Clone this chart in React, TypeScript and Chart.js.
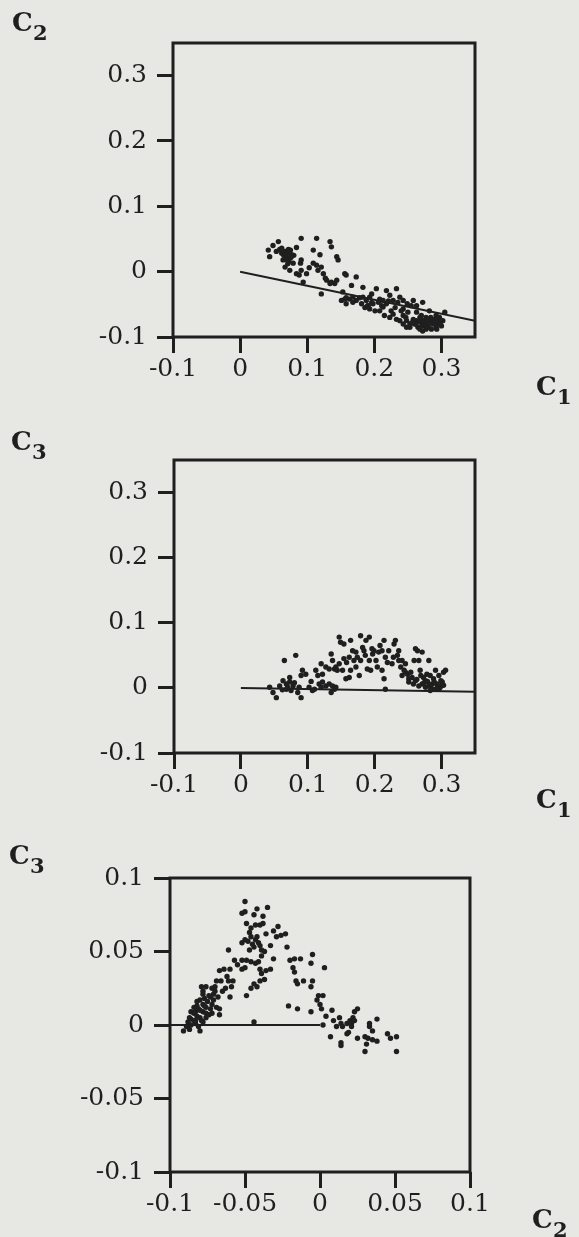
import React, { useEffect, useRef } from "react";
import { Chart, registerables } from "chart.js";

Chart.register(...registerables);

const INK = "#1f1f1f";
const PAPER = "#e7e7e4";
const FONT = "'DejaVu Serif', 'Liberation Serif', serif";

// ---------- Plot 1 : C2 against C1 ----------
const plot1XTicks = [-0.1, 0, 0.1, 0.2, 0.3];
const plot1XLabels = ["-0.1", "0", "0.1", "0.2", "0.3"];
const plot1YTicks = [-0.1, 0, 0.1, 0.2, 0.3];
const plot1YLabels = ["-0.1", "0", "0.1", "0.2", "0.3"];
const plot1Line: [number, number][] = [[0, 0], [0.35, -0.075]];
const plot1Points: [number, number][] = [
  [0.042, 0.033], [0.057, 0.046], [0.049, 0.040], [0.044, 0.023], [0.054, 0.031], [0.062, 0.028],
  [0.067, 0.031], [0.069, 0.023], [0.064, 0.018], [0.072, 0.015], [0.074, 0.020], [0.077, 0.026],
  [0.075, 0.033], [0.079, 0.013], [0.084, 0.037], [0.091, 0.051], [0.072, 0.034], [0.059, 0.034],
  [0.067, 0.007], [0.074, 0.002], [0.084, -0.003], [0.091, 0.002], [0.094, -0.016], [0.099, -0.003],
  [0.090, 0.013], [0.091, 0.018], [0.114, 0.051], [0.134, 0.046], [0.136, 0.038], [0.109, 0.033],
  [0.119, 0.026], [0.144, 0.023], [0.146, 0.018], [0.114, 0.010], [0.109, 0.013], [0.116, 0.002],
  [0.124, -0.003], [0.121, 0.007], [0.129, -0.013], [0.136, -0.016], [0.141, -0.018], [0.144, -0.013],
  [0.134, -0.018], [0.121, -0.034], [0.156, -0.003], [0.158, -0.005], [0.166, -0.021], [0.173, -0.008],
  [0.153, -0.031], [0.156, -0.042], [0.158, -0.049], [0.163, -0.042], [0.151, -0.044], [0.168, -0.039],
  [0.173, -0.044], [0.183, -0.039], [0.183, -0.024], [0.181, -0.049], [0.188, -0.044], [0.193, -0.039],
  [0.196, -0.034], [0.198, -0.049], [0.191, -0.052], [0.186, -0.055], [0.203, -0.026], [0.208, -0.042],
  [0.213, -0.044], [0.218, -0.029], [0.223, -0.036], [0.213, -0.054], [0.208, -0.060], [0.218, -0.049],
  [0.228, -0.044], [0.233, -0.026], [0.235, -0.047], [0.238, -0.039], [0.243, -0.044], [0.243, -0.057],
  [0.225, -0.060], [0.215, -0.067], [0.223, -0.070], [0.233, -0.073], [0.238, -0.075], [0.243, -0.067],
  [0.248, -0.075], [0.250, -0.062], [0.253, -0.080], [0.258, -0.044], [0.263, -0.052], [0.263, -0.062],
  [0.268, -0.070], [0.272, -0.047], [0.258, -0.073], [0.260, -0.080], [0.265, -0.085], [0.270, -0.078],
  [0.272, -0.083], [0.275, -0.075], [0.277, -0.070], [0.282, -0.060], [0.285, -0.075], [0.287, -0.080],
  [0.292, -0.067], [0.295, -0.075], [0.297, -0.070], [0.300, -0.083], [0.302, -0.075], [0.305, -0.062],
  [0.292, -0.085], [0.285, -0.088], [0.277, -0.088], [0.272, -0.091], [0.268, -0.088], [0.253, -0.085],
  [0.243, -0.080], [0.248, -0.085], [0.280, -0.078], [0.290, -0.073], [0.295, -0.080], [0.300, -0.075],
  [0.249, -0.049], [0.255, -0.052], [0.201, -0.060], [0.193, -0.057], [0.168, -0.047], [0.196, -0.047],
  [0.206, -0.047], [0.228, -0.065], [0.263, -0.075], [0.272, -0.075],
  [0.065, 0.025], [0.070, 0.028], [0.076, 0.022], [0.068, 0.019], [0.073, 0.030], [0.080, 0.025],
  [0.062, 0.036], [0.071, 0.012], [0.262, -0.080], [0.267, -0.076], [0.276, -0.082], [0.281, -0.085],
  [0.289, -0.078], [0.293, -0.088], [0.284, -0.070], [0.298, -0.080], [0.256, -0.078], [0.270, -0.067],
  [0.279, -0.073], [0.247, -0.070], [0.178, -0.040], [0.190, -0.052], [0.211, -0.052], [0.221, -0.045],
  [0.231, -0.055], [0.240, -0.060], [0.158, -0.040], [0.127, -0.010], [0.103, 0.006], [0.088, -0.005],
];

// ---------- Plot 2 : C3 against C1 ----------
const plot2XTicks = [-0.1, 0, 0.1, 0.2, 0.3];
const plot2XLabels = ["-0.1", "0", "0.1", "0.2", "0.3"];
const plot2YTicks = [-0.1, 0, 0.1, 0.2, 0.3];
const plot2YLabels = ["-0.1", "0", "0.1", "0.2", "0.3"];
const plot2Line: [number, number][] = [[0, 0], [0.35, -0.006]];
const plot2Points: [number, number][] = [
  [0.043, 0.001], [0.048, -0.007], [0.053, -0.015], [0.058, 0.003], [0.063, 0.011], [0.065, 0.042],
  [0.068, 0.006], [0.070, 0.001], [0.073, 0.009], [0.075, -0.004], [0.078, 0.003], [0.082, 0.050],
  [0.085, -0.007], [0.087, 0.001], [0.090, -0.015], [0.092, 0.027], [0.097, 0.021], [0.102, 0.001],
  [0.107, -0.004], [0.110, -0.002], [0.112, 0.027], [0.115, 0.019], [0.117, 0.006], [0.120, 0.001],
  [0.122, 0.009], [0.127, 0.003], [0.132, 0.006], [0.135, -0.007], [0.137, 0.003], [0.140, -0.002],
  [0.142, 0.001], [0.120, 0.037], [0.127, 0.032], [0.132, 0.029], [0.135, 0.052], [0.137, 0.042],
  [0.140, 0.029], [0.142, 0.032], [0.144, 0.027], [0.147, 0.037], [0.152, 0.027], [0.154, 0.045],
  [0.157, 0.014], [0.162, 0.016], [0.164, 0.027], [0.169, 0.042], [0.172, 0.032], [0.147, 0.078],
  [0.149, 0.070], [0.154, 0.0675], [0.164, 0.073], [0.167, 0.057], [0.172, 0.055], [0.177, 0.019],
  [0.179, 0.080], [0.182, 0.062], [0.184, 0.057], [0.187, 0.073], [0.192, 0.078], [0.192, 0.042],
  [0.194, 0.027], [0.197, 0.052], [0.199, 0.057], [0.202, 0.042], [0.204, 0.032], [0.206, 0.055],
  [0.211, 0.057], [0.214, 0.073], [0.216, 0.047], [0.219, 0.039], [0.221, 0.057], [0.226, 0.037],
  [0.229, 0.0675], [0.231, 0.073], [0.234, 0.050], [0.236, 0.057], [0.239, 0.032], [0.241, 0.019],
  [0.236, 0.042], [0.244, 0.027], [0.249, 0.021], [0.251, 0.014], [0.254, 0.024], [0.256, 0.016],
  [0.259, 0.042], [0.261, 0.060], [0.264, 0.057], [0.266, 0.042], [0.268, 0.027], [0.271, 0.055],
  [0.273, 0.016], [0.276, 0.011], [0.278, 0.021], [0.281, 0.042], [0.283, 0.019], [0.286, 0.006],
  [0.288, 0.014], [0.291, 0.027], [0.293, 0.006], [0.296, 0.019], [0.298, 0.001], [0.301, 0.009],
  [0.303, 0.024], [0.306, 0.027], [0.286, -0.002], [0.291, -0.002], [0.296, -0.002], [0.298, 0.003],
  [0.251, 0.009], [0.261, 0.011], [0.266, 0.003], [0.271, 0.006], [0.276, 0.001], [0.281, 0.003],
  [0.241, 0.042], [0.246, 0.037], [0.211, 0.027], [0.214, 0.014], [0.216, -0.002], [0.189, 0.029],
  [0.179, 0.042], [0.174, 0.047], [0.162, 0.047], [0.122, 0.021], [0.090, 0.019], [0.073, 0.016],
  [0.068, -0.002],
  [0.274, 0.008], [0.279, 0.010], [0.284, 0.004], [0.289, 0.009], [0.294, 0.003], [0.299, 0.011],
  [0.263, 0.013], [0.258, 0.006], [0.283, -0.004], [0.303, 0.004], [0.269, 0.019], [0.246, 0.024],
  [0.228, 0.047], [0.196, 0.060], [0.186, 0.050], [0.208, 0.065], [0.158, 0.039], [0.105, 0.010],
  [0.080, 0.008], [0.062, -0.003],
];

// ---------- Plot 3 : C3 against C2 ----------
const plot3XTicks = [-0.1, -0.05, 0, 0.05, 0.1];
const plot3XLabels = ["-0.1", "-0.05", "0", "0.05", "0.1"];
const plot3YTicks = [-0.1, -0.05, 0, 0.05, 0.1];
const plot3YLabels = ["-0.1", "-0.05", "0", "0.05", "0.1"];
const plot3Line: [number, number][] = [[-0.1, 0], [0, 0]];
const plot3Points: [number, number][] = [
  [-0.050, 0.084], [-0.052, 0.076], [-0.050, 0.077], [-0.042, 0.079], [-0.035, 0.080], [-0.044, 0.075],
  [-0.038, 0.074], [-0.040, 0.068], [-0.043, 0.068], [-0.038, 0.069], [-0.049, 0.069], [-0.047, 0.063],
  [-0.052, 0.056], [-0.050, 0.058], [-0.046, 0.060], [-0.043, 0.058], [-0.041, 0.056], [-0.040, 0.054],
  [-0.044, 0.053], [-0.047, 0.051], [-0.039, 0.051], [-0.037, 0.050], [-0.033, 0.054], [-0.036, 0.062],
  [-0.031, 0.064], [-0.028, 0.067], [-0.029, 0.060], [-0.026, 0.061], [-0.023, 0.062], [-0.022, 0.053],
  [-0.061, 0.051], [-0.057, 0.044], [-0.052, 0.044], [-0.050, 0.039], [-0.049, 0.044], [-0.046, 0.043],
  [-0.043, 0.042], [-0.041, 0.043], [-0.040, 0.038], [-0.039, 0.035], [-0.036, 0.037], [-0.033, 0.038],
  [-0.031, 0.045], [-0.037, 0.031], [-0.040, 0.030], [-0.042, 0.026], [-0.046, 0.025], [-0.044, 0.028],
  [-0.049, 0.020], [-0.052, 0.038], [-0.064, 0.038], [-0.067, 0.037], [-0.060, 0.038], [-0.061, 0.030],
  [-0.058, 0.030], [-0.059, 0.026], [-0.063, 0.025], [-0.060, 0.019], [-0.067, 0.011], [-0.066, 0.030],
  [-0.069, 0.030], [-0.070, 0.026], [-0.071, 0.021], [-0.072, 0.025], [-0.076, 0.026], [-0.078, 0.023],
  [-0.079, 0.026], [-0.074, 0.020], [-0.077, 0.018], [-0.078, 0.014], [-0.080, 0.017], [-0.082, 0.013],
  [-0.084, 0.012], [-0.086, 0.009], [-0.083, 0.009], [-0.081, 0.011], [-0.078, 0.009], [-0.076, 0.012],
  [-0.074, 0.007], [-0.073, 0.011], [-0.072, 0.014], [-0.076, 0.005], [-0.080, 0.005], [-0.082, 0.006],
  [-0.084, 0.003], [-0.087, 0.005], [-0.088, 0.002], [-0.086, 0.000], [-0.089, -0.001], [-0.091, -0.004],
  [-0.087, -0.003], [-0.083, 0.001], [-0.081, -0.001], [-0.080, -0.004], [-0.079, 0.003], [-0.078, 0.002],
  [-0.068, 0.019], [-0.071, 0.017], [-0.069, 0.012], [-0.067, 0.007], [-0.044, 0.002], [-0.020, 0.044],
  [-0.017, 0.045], [-0.013, 0.045], [-0.018, 0.039], [-0.017, 0.036], [-0.016, 0.030], [-0.015, 0.028],
  [-0.011, 0.030], [-0.005, 0.048], [-0.006, 0.042], [0.003, 0.039], [-0.005, 0.030], [-0.006, 0.026],
  [-0.021, 0.013], [-0.015, 0.011], [-0.006, 0.009], [-0.001, 0.020], [0.002, 0.020], [0.000, 0.014],
  [0.001, 0.011], [-0.002, 0.017], [0.004, 0.006], [0.008, 0.010], [0.009, 0.003], [0.013, 0.005],
  [0.014, 0.001], [0.011, -0.001], [0.015, -0.001], [0.018, 0.001], [0.020, 0.003], [0.021, 0.001],
  [0.019, -0.005], [0.018, -0.006], [0.023, 0.009], [0.025, 0.011], [0.022, 0.005], [0.023, 0.003],
  [0.007, -0.008], [0.014, -0.012], [0.014, -0.014], [0.025, -0.009], [0.030, -0.008], [0.033, -0.001],
  [0.035, -0.004], [0.038, 0.004], [0.033, 0.001], [0.038, -0.011], [0.031, -0.013], [0.030, -0.018],
  [0.032, -0.009], [0.035, -0.010], [0.045, -0.006], [0.047, -0.009], [0.051, -0.008], [0.051, -0.018],
  [0.021, -0.001], [0.002, 0.000],
  [-0.084, 0.008], [-0.080, 0.010], [-0.077, 0.013], [-0.075, 0.016], [-0.073, 0.019], [-0.082, 0.016],
  [-0.078, 0.021], [-0.070, 0.023], [-0.086, 0.004], [-0.083, 0.003], [-0.076, 0.008], [-0.072, 0.008],
  [-0.065, 0.023], [-0.062, 0.033], [-0.055, 0.041], [-0.045, 0.055], [-0.048, 0.057], [-0.042, 0.060],
  [-0.046, 0.066], [-0.039, 0.047],
];

type PanelCfg = {
  top: number;
  height: number;
  padTop: number;
  padRight: number;
  yWidth: number;
  xHeight: number;
  xMin: number;
  xMax: number;
  yMin: number;
  yMax: number;
  xTicks: number[];
  xLabels: string[];
  yTicks: number[];
  yLabels: string[];
  points: [number, number][];
  line: [number, number][];
};

const framePlugin = {
  id: "frame",
  afterDatasetsDraw(chart: any) {
    const { ctx, chartArea: a } = chart;
    ctx.save();
    ctx.strokeStyle = INK;
    ctx.lineWidth = 3;
    ctx.strokeRect(a.left, a.top, a.right - a.left, a.bottom - a.top);
    ctx.restore();
  },
};

function axisOptions(
  min: number,
  max: number,
  ticks: number[],
  labels: string[],
  horizontal: boolean,
  size: number
) {
  return {
    type: "linear",
    min,
    max,
    afterBuildTicks: (scale: any) => {
      scale.ticks = ticks.map((v) => ({ value: v }));
    },
    afterFit: (scale: any) => {
      if (horizontal) scale.height = size;
      else scale.width = size;
    },
    grid: {
      drawOnChartArea: false,
      drawTicks: true,
      tickLength: 16,
      tickWidth: 3,
      tickColor: INK,
      color: INK,
      lineWidth: 3,
    },
    border: { display: false },
    ticks: {
      autoSkip: false,
      maxRotation: 0,
      minRotation: 0,
      padding: horizontal ? 1 : 10,
      color: INK,
      font: { family: FONT, size: 25, lineHeight: 1.2 },
      callback: (_v: any, i: number) => labels[i],
    },
  };
}

function Panel({ cfg }: { cfg: PanelCfg }) {
  const ref = useRef<HTMLCanvasElement>(null);
  useEffect(() => {
    if (!ref.current) return;
    const chart = new Chart(ref.current, {
      type: "scatter",
      data: {
        datasets: [
          {
            data: cfg.points.map(([x, y]) => ({ x, y })),
            pointRadius: 2.7,
            pointBackgroundColor: INK,
            pointBorderWidth: 0,
            showLine: false,
          },
          {
            data: cfg.line.map(([x, y]) => ({ x, y })),
            showLine: true,
            borderColor: INK,
            borderWidth: 2,
            pointRadius: 0,
          },
        ],
      },
      options: {
        animation: false,
        responsive: false,
        events: [],
        layout: { padding: { left: 0, top: cfg.padTop, right: cfg.padRight, bottom: 0 } },
        plugins: { legend: { display: false }, tooltip: { enabled: false } },
        scales: {
          x: axisOptions(cfg.xMin, cfg.xMax, cfg.xTicks, cfg.xLabels, true, cfg.xHeight),
          y: axisOptions(cfg.yMin, cfg.yMax, cfg.yTicks, cfg.yLabels, false, cfg.yWidth),
        },
      } as any,
      plugins: [framePlugin],
    });
    return () => chart.destroy();
  }, [cfg]);
  return (
    <canvas
      ref={ref}
      width={579}
      height={cfg.height}
      style={{ position: "absolute", left: 0, top: cfg.top, width: 579, height: cfg.height }}
    />
  );
}

function AxisName({ x, y, sub }: { x: number; y: number; sub: string }) {
  const base: React.CSSProperties = {
    position: "absolute",
    fontFamily: FONT,
    fontWeight: "bold",
    lineHeight: 1,
    color: INK,
    whiteSpace: "nowrap",
  };
  return (
    <>
      <span style={{ ...base, left: x, top: y - 22, fontSize: 26 }}>C</span>
      <span style={{ ...base, left: x + 21, top: y + 9 - 17.8, fontSize: 21 }}>{sub}</span>
    </>
  );
}

const panel1: PanelCfg = {
  top: 0, height: 420, padTop: 43, padRight: 104, yWidth: 173, xHeight: 83,
  xMin: -0.1, xMax: 0.35, yMin: -0.1, yMax: 0.35,
  xTicks: plot1XTicks, xLabels: plot1XLabels, yTicks: plot1YTicks, yLabels: plot1YLabels,
  points: plot1Points, line: plot1Line,
};
const panel2: PanelCfg = {
  top: 420, height: 420, padTop: 40, padRight: 104, yWidth: 174, xHeight: 87,
  xMin: -0.1, xMax: 0.35, yMin: -0.1, yMax: 0.35,
  xTicks: plot2XTicks, xLabels: plot2XLabels, yTicks: plot2YTicks, yLabels: plot2YLabels,
  points: plot2Points, line: plot2Line,
};
const panel3: PanelCfg = {
  top: 840, height: 397, padTop: 38, padRight: 109, yWidth: 170, xHeight: 65,
  xMin: -0.1, xMax: 0.1, yMin: -0.1, yMax: 0.1,
  xTicks: plot3XTicks, xLabels: plot3XLabels, yTicks: plot3YTicks, yLabels: plot3YLabels,
  points: plot3Points, line: plot3Line,
};

export default function App() {
  return (
    <div
      style={{
        position: "absolute",
        left: 0,
        top: 0,
        width: 579,
        height: 1237,
        background: PAPER,
        overflow: "hidden",
      }}
    >
      <Panel cfg={panel1} />
      <Panel cfg={panel2} />
      <Panel cfg={panel3} />
      <AxisName x={12} y={31} sub="2" />
      <AxisName x={536} y={395} sub="1" />
      <AxisName x={11} y={450} sub="3" />
      <AxisName x={536} y={808} sub="1" />
      <AxisName x={9} y={864} sub="3" />
      <AxisName x={532} y={1228} sub="2" />
    </div>
  );
}
